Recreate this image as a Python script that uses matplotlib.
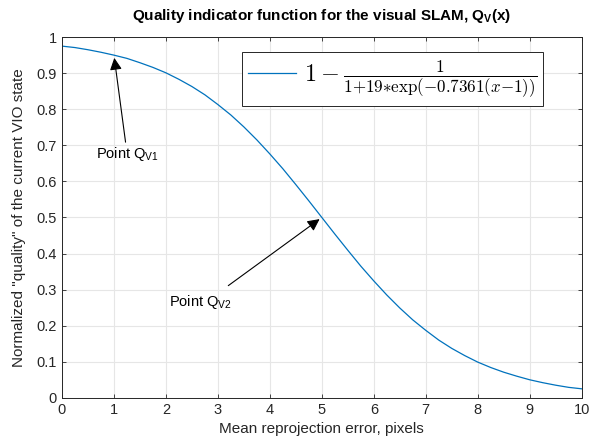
import matplotlib
matplotlib.use('Agg')
import matplotlib.pyplot as plt
from matplotlib.font_manager import FontProperties

# values (mean reprojection error vs quality)
err_px = [0, 0.25, 0.5, 0.75, 1, 1.25, 1.5, 1.75, 2, 2.25, 2.5, 2.75, 3, 3.25, 3.5, 3.75,
          4, 4.25, 4.5, 4.75, 5, 5.25, 5.5, 5.75, 6, 6.25, 6.5, 6.75, 7, 7.25, 7.5, 7.75,
          8, 8.25, 8.5, 8.75, 9, 9.25, 9.5, 9.75, 10]
quality = [0.975, 0.971, 0.965, 0.958, 0.950, 0.941, 0.929, 0.916, 0.901, 0.883, 0.863,
           0.840, 0.813, 0.784, 0.751, 0.715, 0.676, 0.635, 0.591, 0.546, 0.500, 0.454,
           0.409, 0.365, 0.324, 0.285, 0.249, 0.216, 0.187, 0.160, 0.137, 0.117, 0.099,
           0.084, 0.071, 0.060, 0.050, 0.042, 0.035, 0.029, 0.025]

x_ticks = list(range(0, 11))
y_ticks = [0, 0.1, 0.2, 0.3, 0.4, 0.5, 0.6, 0.7, 0.8, 0.9, 1]
y_tick_labels = ['0', '0.1', '0.2', '0.3', '0.4', '0.5', '0.6', '0.7', '0.8', '0.9', '1']

plt.rcParams['font.family'] = ['Liberation Sans', 'DejaVu Sans']
plt.rcParams['mathtext.fontset'] = 'custom'
plt.rcParams['mathtext.rm'] = 'Liberation Sans'
plt.rcParams['mathtext.it'] = 'Liberation Sans:italic'
plt.rcParams['mathtext.bf'] = 'Liberation Sans:bold'

fig = plt.figure(figsize=(5.9, 4.47), dpi=100)
ax = fig.add_axes([0.105, 0.110, 0.881, 0.807])

ax.plot(err_px, quality, color='#0072BD', lw=0.9,
        label=r'$1-\frac{1}{1{+}19{*}\exp({-}0.7361(x{-}1))}$')

ax.set_xlim(0, 10)
ax.set_ylim(0, 1)
ax.set_xticks(x_ticks)
ax.set_yticks(y_ticks)
ax.set_yticklabels(y_tick_labels)
ax.tick_params(direction='in', length=3, labelsize=10.5, top=True, right=True,
               colors='#262626', width=0.6)
ax.grid(True, color='#e6e6e6', lw=0.8)
for s in ax.spines.values():
    s.set_color('#262626')
    s.set_linewidth(0.7)

ax.set_title(r'Quality indicator function for the visual SLAM, Q$_\mathbf{V}$(x)',
             fontsize=11, fontweight='bold', pad=12)
ax.set_xlabel('Mean reprojection error, pixels', fontsize=11, color='#262626')
ax.set_ylabel('Normalized "quality" of the current VIO state', fontsize=11,
              color='#262626', labelpad=8)

ax.annotate(r'Point Q$_\mathrm{V1}$', xy=(err_px[4], quality[4]), xytext=(0.65, 0.665),
            arrowprops=dict(arrowstyle='-|>', color='black', lw=0.8, mutation_scale=18,
                            shrinkA=0, relpos=(0.48, 1.0)),
            fontsize=10.5)
ax.annotate(r'Point Q$_\mathrm{V2}$', xy=(err_px[20], quality[20]), xytext=(2.05, 0.255),
            arrowprops=dict(arrowstyle='-|>', color='black', lw=0.8, mutation_scale=18,
                            shrinkA=0, relpos=(0.95, 1.4)),
            fontsize=10.5)

leg_font = FontProperties(size=17.5, math_fontfamily='cm')
leg = ax.legend(loc='upper right', prop=leg_font, fancybox=False, edgecolor='#262626',
                framealpha=1, handlelength=2.0, handletextpad=0.3, borderpad=0.25,
                borderaxespad=0, bbox_to_anchor=(0.925, 0.958))
leg.get_frame().set_linewidth(0.7)

fig.savefig('out.png', dpi=100)
